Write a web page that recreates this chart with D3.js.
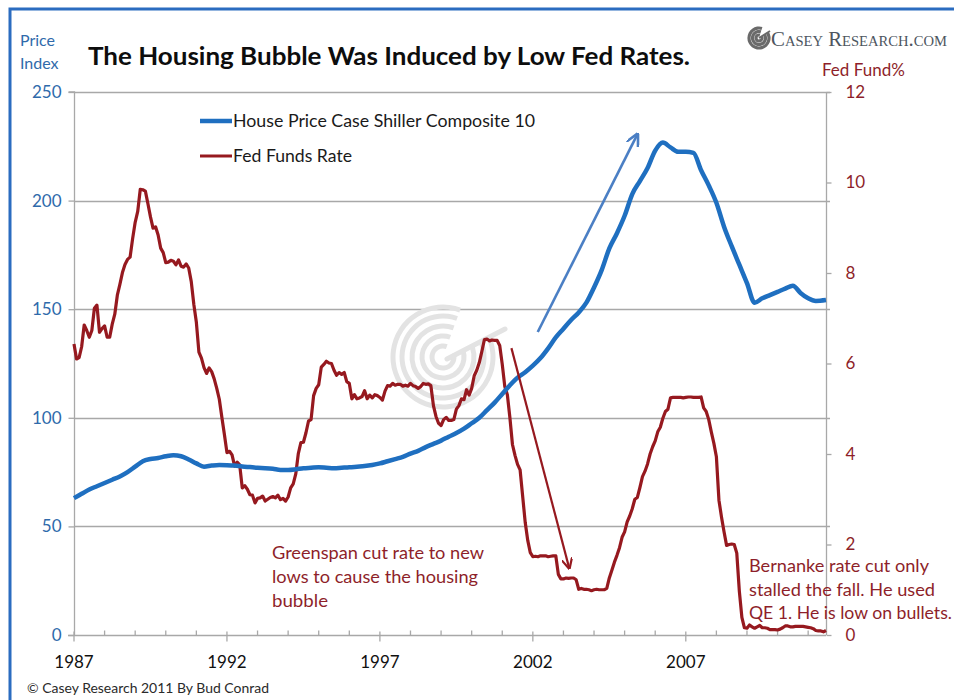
<!DOCTYPE html>
<html>
<head>
<meta charset="utf-8">
<script src="https://cdn.jsdelivr.net/npm/d3@7"></script>
<style>
  html, body { margin: 0; padding: 0; background: #fff; }
  svg { display: block; font-family: Lato, "Open Sans", sans-serif; }
</style>
</head>
<body>
<svg id="chart" width="954" height="700"></svg>
<script>
// ---- Data ---------------------------------------------------------------
// Case-Shiller Composite 10 house price index (quarterly readings)
const houseMonths = [
  "1987-01","1987-04","1987-07","1987-10","1988-01","1988-04","1988-07","1988-10",
  "1989-01","1989-04","1989-07","1989-10","1990-01","1990-04","1990-07","1990-10",
  "1991-01","1991-04","1991-07","1991-10","1992-01","1992-04","1992-07","1992-10",
  "1993-01","1993-04","1993-07","1993-10","1994-01","1994-04","1994-07","1994-10",
  "1995-01","1995-04","1995-07","1995-10","1996-01","1996-04","1996-07","1996-10",
  "1997-01","1997-04","1997-07","1997-10","1998-01","1998-04","1998-07","1998-10",
  "1999-01","1999-04","1999-07","1999-10","2000-01","2000-04","2000-07","2000-10",
  "2001-01","2001-04","2001-07","2001-10","2002-01","2002-04","2002-07","2002-10",
  "2003-01","2003-04","2003-07","2003-10","2004-01","2004-04","2004-07","2004-10",
  "2005-01","2005-04","2005-07","2005-10","2006-01","2006-04","2006-07","2006-10",
  "2007-01","2007-04","2007-07","2007-10","2008-01","2008-04","2008-07","2008-10",
  "2009-01","2009-04","2009-07","2009-10","2010-01","2010-04","2010-07","2010-10",
  "2011-01","2011-04","2011-08"
];
const houseIndex = [
  63, 65, 67, 68.5, 70, 71.5, 73, 75,
  77.5, 80, 81, 81.5, 82.3, 82.8, 82.3, 80.8,
  79, 77.5, 78, 78.3, 78.2, 78, 77.6, 77.3,
  77, 76.8, 76.5, 76, 76, 76.3, 76.8, 77,
  77.2, 77, 76.8, 77, 77.2, 77.5, 77.8, 78.3,
  79, 80, 81, 82, 83.5, 84.8, 86.5, 88,
  89.5, 91.3, 93, 95, 97.5, 100, 103.5, 107,
  111, 115, 118.5, 121, 124, 127.5, 132, 137,
  141, 145, 148.5, 153, 160, 168, 178, 185,
  193, 203, 209, 215, 223, 226.7, 224.5, 222.5,
  222.5, 222, 214, 207, 199, 188, 179, 170.5,
  162, 153, 155, 156.5, 158, 159.5, 160.8, 157.5,
  155, 153.8, 154.2
];

// Effective Fed Funds rate (%), monthly from January 1987
const fedStart = "1987-01";
const fedFundsRate = [
  6.43, 6.10, 6.13, 6.37, 6.85, 6.73, 6.58, 6.73, 7.22, 7.29, 6.69, 6.77,
  6.83, 6.58, 6.58, 6.87, 7.09, 7.51, 7.75, 8.01, 8.19, 8.30, 8.35, 8.76,
  9.12, 9.36, 9.85, 9.84, 9.81, 9.53, 9.24, 8.99, 9.02, 8.84, 8.55, 8.45,
  8.23, 8.24, 8.28, 8.26, 8.18, 8.29, 8.15, 8.13, 8.20, 8.11, 7.81, 7.31,
  6.91, 6.25, 6.12, 5.91, 5.78, 5.90, 5.82, 5.66, 5.45, 5.21, 4.81, 4.43,
  4.03, 4.06, 3.98, 3.73, 3.82, 3.76, 3.25, 3.30, 3.22, 3.10, 3.09, 2.92,
  3.02, 3.03, 3.07, 2.96, 3.00, 3.04, 3.06, 3.03, 3.09, 2.99, 3.02, 2.96,
  3.05, 3.25, 3.34, 3.56, 4.01, 4.25, 4.26, 4.47, 4.73, 4.76, 5.29, 5.45,
  5.53, 5.92, 5.98, 6.05, 6.01, 6.00, 5.85, 5.74, 5.80, 5.76, 5.80, 5.60,
  5.56, 5.22, 5.31, 5.22, 5.24, 5.27, 5.40, 5.22, 5.30, 5.24, 5.31, 5.29,
  5.25, 5.19, 5.39, 5.51, 5.50, 5.56, 5.52, 5.54, 5.54, 5.50, 5.52, 5.50,
  5.56, 5.51, 5.49, 5.45, 5.49, 5.56, 5.54, 5.55, 5.51, 5.07, 4.83, 4.68,
  4.63, 4.76, 4.81, 4.74, 4.74, 4.76, 4.99, 5.07, 5.22, 5.20, 5.42, 5.30,
  5.45, 5.73, 5.85, 6.02, 6.27, 6.53, 6.54, 6.50, 6.52, 6.51, 6.51, 6.40,
  5.98, 5.49, 5.31, 4.80, 4.21, 3.97, 3.77, 3.65, 3.07, 2.49, 2.09, 1.82,
  1.73, 1.74, 1.73, 1.75, 1.75, 1.75, 1.73, 1.74, 1.75, 1.75, 1.34, 1.24,
  1.24, 1.26, 1.25, 1.26, 1.26, 1.22, 1.01, 1.03, 1.01, 1.01, 1.00, 0.98,
  1.00, 1.01, 1.00, 1.00, 1.00, 1.03, 1.26, 1.43, 1.61, 1.76, 1.93, 2.16,
  2.28, 2.50, 2.63, 2.79, 3.00, 3.04, 3.26, 3.50, 3.62, 3.78, 4.00, 4.16,
  4.29, 4.49, 4.59, 4.79, 4.94, 4.99, 5.24, 5.25, 5.25, 5.25, 5.25, 5.24,
  5.25, 5.26, 5.26, 5.25, 5.25, 5.25, 5.26, 5.02, 4.94, 4.76, 4.49, 4.24,
  3.94, 2.98, 2.61, 2.28, 1.98, 2.00, 2.01, 2.00, 1.81, 0.97, 0.39, 0.16,
  0.15, 0.22, 0.18, 0.15, 0.18, 0.21, 0.16, 0.16, 0.15, 0.12, 0.12, 0.12,
  0.11, 0.13, 0.16, 0.20, 0.20, 0.18, 0.18, 0.19, 0.19, 0.19, 0.19, 0.18,
  0.17, 0.16, 0.14, 0.10, 0.09, 0.09, 0.07, 0.10
];

// Axis ticks and labels
const priceTicks = [0, 50, 100, 150, 200, 250];
const rateTicks = [0, 2, 4, 6, 8, 10, 12];
const yearLabels = [1987, 1992, 1997, 2002, 2007];
const yearMinorTicks = d3.range(1988, 2012);

// Text
const titleText = "The Housing Bubble Was Induced by Low Fed Rates.";
const legendItems = ["House Price Case Shiller Composite 10", "Fed Funds Rate"];
const greenspanNote = ["Greenspan cut rate to new", "lows to cause the housing", "bubble"];
const bernankeNote = ["Bernanke rate cut only", "stalled the fall. He used", "QE 1. He is low on bullets."];

// Arrows in data units: [year, value]
const bubbleArrow = { from: [2002.16, 139.5], to: [2005.4, 230] };      // price index axis
const cutArrow = { from: [2001.3, 6.34], to: [2003.18, 1.5] };          // fed funds axis

// ---- Helpers ------------------------------------------------------------
const monthToYear = s => { const [y, m] = s.split("-").map(Number); return y + (m - 1) / 12; };
const fedYear0 = monthToYear(fedStart);

const houseData = houseMonths.map((m, i) => ({ t: monthToYear(m), v: houseIndex[i] }));
const fedData = fedFundsRate.map((v, i) => ({ t: fedYear0 + i / 12, v }));

// ---- Layout -------------------------------------------------------------
const svg = d3.select("#chart");
const plot = { left: 74, right: 826, top: 92, bottom: 635 };

const BLUE = "#1f6fc0";
const RED = "#96191f";
const AXIS_BLUE = "#2f6aab";
const AXIS_RED = "#8e1f2a";
const GRID = "#a8a8a8";

const x = d3.scaleLinear()
  .domain([fedYear0, fedData[fedData.length - 1].t])
  .range([plot.left, plot.right]);
const yPrice = d3.scaleLinear().domain([0, 250]).range([plot.bottom, plot.top]);
const yRate = d3.scaleLinear().domain([0, 12]).range([plot.bottom, plot.top]);

svg.append("rect").attr("width", 954).attr("height", 700).attr("fill", "#fff");

// Frame along top and left edge
svg.append("path")
  .attr("d", "M10,700 L10,9 L954,9")
  .attr("fill", "none").attr("stroke", "#2b6cc0").attr("stroke-width", 3);

// Gridlines
svg.append("g").selectAll("line").data(priceTicks.filter(d => d > 0)).join("line")
  .attr("x1", plot.left).attr("x2", plot.right + 4)
  .attr("y1", d => Math.round(yPrice(d)) + 0.5).attr("y2", d => Math.round(yPrice(d)) + 0.5)
  .attr("stroke", GRID).attr("stroke-width", 1.3);

// Watermark swirl
const wm = svg.append("g").attr("transform", "translate(443,357)");
[11, 21, 31, 41, 50].forEach(r => {
  wm.append("path")
    .attr("d", d3.arc()({ innerRadius: r - 2.5, outerRadius: r + 2.5, startAngle: 1.25, endAngle: 2 * Math.PI + 0.35 }))
    .attr("fill", "#e3e3e3");
});
wm.append("line").attr("x1", 4).attr("y1", 2).attr("x2", 62).attr("y2", -28)
  .attr("stroke", "#e3e3e3").attr("stroke-width", 5).attr("stroke-linecap", "round");

// Left axis
const leftAxis = d3.axisLeft(yPrice).tickValues(priceTicks).tickSize(6).tickPadding(7);
const gL = svg.append("g").attr("transform", `translate(${plot.left + 0.5},0)`).call(leftAxis);
gL.select(".domain").attr("stroke", GRID).attr("stroke-width", 1.3).attr("d", `M-6,${plot.top}H0V${plot.bottom}`);
gL.selectAll(".tick line").attr("stroke", GRID).attr("stroke-width", 1.3);
gL.selectAll(".tick text").attr("fill", AXIS_BLUE).attr("font-size", 17)
  .attr("font-family", "Lato, sans-serif");

// Right axis
const rightAxis = d3.axisRight(yRate).tickValues(rateTicks).tickSize(5).tickPadding(14);
const gR = svg.append("g").attr("transform", `translate(${plot.right + 0.5},0)`).call(rightAxis);
gR.select(".domain").attr("stroke", GRID).attr("stroke-width", 1.3).attr("d", `M0,${plot.top}V${plot.bottom}`);
gR.selectAll(".tick line").attr("stroke", GRID).attr("stroke-width", 1.3);
gR.selectAll(".tick text").attr("fill", AXIS_RED).attr("font-size", 17)
  .attr("font-family", "Lato, sans-serif");

// Bottom axis: years, labelled every five
const gB = svg.append("g").attr("transform", `translate(0,${plot.bottom + 0.5})`);
gB.append("line").attr("x1", plot.left - 6).attr("x2", plot.right)
  .attr("stroke", GRID).attr("stroke-width", 1.3);
gB.selectAll("line.minor").data(yearMinorTicks.filter(y => !yearLabels.includes(y))).join("line")
  .attr("class", "minor")
  .attr("x1", d => x(d)).attr("x2", d => x(d)).attr("y1", -5).attr("y2", 0)
  .attr("stroke", GRID).attr("stroke-width", 1.3);
gB.selectAll("line.major").data(yearLabels).join("line")
  .attr("class", "major")
  .attr("x1", d => x(d)).attr("x2", d => x(d)).attr("y1", -4).attr("y2", 6)
  .attr("stroke", GRID).attr("stroke-width", 1.3);
gB.selectAll("text").data(yearLabels).join("text")
  .attr("x", d => x(d)).attr("y", 32)
  .attr("text-anchor", "middle").attr("font-size", 17).attr("fill", "#111")
  .text(d => d);

// Series
const houseLine = d3.line().x(d => x(d.t)).y(d => yPrice(d.v)).curve(d3.curveMonotoneX);
const fedLine = d3.line().x(d => x(d.t)).y(d => yRate(d.v));

svg.append("path").datum(fedData)
  .attr("d", fedLine).attr("fill", "none")
  .attr("stroke", RED).attr("stroke-width", 3.2).attr("stroke-linejoin", "round");

svg.append("path").datum(houseData)
  .attr("d", houseLine).attr("fill", "none")
  .attr("stroke", BLUE).attr("stroke-width", 4.5).attr("stroke-linejoin", "round");

// Annotation arrows
const defs = svg.append("defs");
function marker(id, color) {
  defs.append("marker").attr("id", id)
    .attr("viewBox", "0 0 10 10").attr("refX", 8).attr("refY", 5)
    .attr("markerWidth", 5).attr("markerHeight", 5).attr("orient", "auto")
    .append("path").attr("d", "M0,0 L10,5 L0,10").attr("fill", "none")
    .attr("stroke", color).attr("stroke-width", 2);
}
marker("headBlue", "#4b7fc4");
marker("headRed", RED);

svg.append("line")
  .attr("x1", x(bubbleArrow.from[0])).attr("y1", yPrice(bubbleArrow.from[1]))
  .attr("x2", x(bubbleArrow.to[0])).attr("y2", yPrice(bubbleArrow.to[1]))
  .attr("stroke", "#4b7fc4").attr("stroke-width", 2.6).attr("marker-end", "url(#headBlue)");

svg.append("line")
  .attr("x1", x(cutArrow.from[0])).attr("y1", yRate(cutArrow.from[1]))
  .attr("x2", x(cutArrow.to[0])).attr("y2", yRate(cutArrow.to[1]))
  .attr("stroke", RED).attr("stroke-width", 2.2).attr("marker-end", "url(#headRed)");

// Legend
const legend = svg.append("g");
[BLUE, RED].forEach((c, i) => {
  const ly = 121 + i * 35;
  legend.append("line").attr("x1", 200).attr("x2", 232).attr("y1", ly).attr("y2", ly)
    .attr("stroke", c).attr("stroke-width", i === 0 ? 4.5 : 3);
  legend.append("text").attr("x", 233).attr("y", ly + 6)
    .attr("font-size", 17).attr("fill", "#1a1a1a")
    .attr("textLength", i === 0 ? 302 : 119).attr("lengthAdjust", "spacingAndGlyphs")
    .text(legendItems[i]);
});

// Notes
const gsLens = [212, 206, 56];
greenspanNote.forEach((t, i) => {
  svg.append("text").attr("x", 272).attr("y", 559 + i * 24)
    .attr("font-size", 17).attr("fill", AXIS_RED)
    .attr("textLength", gsLens[i]).attr("lengthAdjust", "spacingAndGlyphs").text(t);
});
const bnLens = [180, 186, 203];
bernankeNote.forEach((t, i) => {
  svg.append("text").attr("x", 749).attr("y", 572 + i * 23.5)
    .attr("font-size", 17).attr("fill", AXIS_RED)
    .attr("textLength", bnLens[i]).attr("lengthAdjust", "spacingAndGlyphs").text(t);
});

// Title and axis titles
svg.append("text").attr("x", 88).attr("y", 65)
  .attr("font-size", 24).attr("font-weight", 700).attr("fill", "#0d0d0d")
  .attr("textLength", 602).attr("lengthAdjust", "spacingAndGlyphs")
  .text(titleText);

svg.append("text").attr("x", 20).attr("y", 46).attr("font-size", 16).attr("fill", AXIS_BLUE).text("Price");
svg.append("text").attr("x", 20).attr("y", 69).attr("font-size", 16).attr("fill", AXIS_BLUE).text("Index");
svg.append("text").attr("x", 822).attr("y", 76).attr("font-size", 17).attr("fill", AXIS_RED)
  .text("Fed Fund%");

// Brand mark
const brand = svg.append("g").attr("transform", "translate(759,38)");
[3, 6.5, 10].forEach(r => {
  brand.append("path")
    .attr("d", d3.arc()({ innerRadius: r - 1.6, outerRadius: r + 1.6, startAngle: 1.0, endAngle: 2 * Math.PI + 0.3 }))
    .attr("fill", "#6a6a6a");
});
brand.append("line").attr("x1", 0).attr("y1", 0).attr("x2", 11).attr("y2", -7)
  .attr("stroke", "#6a6a6a").attr("stroke-width", 2);
svg.append("text").attr("x", 771).attr("y", 46)
  .attr("font-family", "'Liberation Serif', 'DejaVu Serif', serif")
  .attr("font-size", 20).attr("font-variant", "small-caps").attr("fill", "#4d5560")
  .attr("textLength", 176).attr("lengthAdjust", "spacingAndGlyphs")
  .text("Casey Research.com");

// Credit line
svg.append("text").attr("x", 27).attr("y", 693)
  .attr("font-size", 14).attr("fill", "#2a2a2a")
  .attr("textLength", 242).attr("lengthAdjust", "spacingAndGlyphs")
  .text("© Casey Research 2011 By Bud Conrad");
</script>
</body>
</html>
